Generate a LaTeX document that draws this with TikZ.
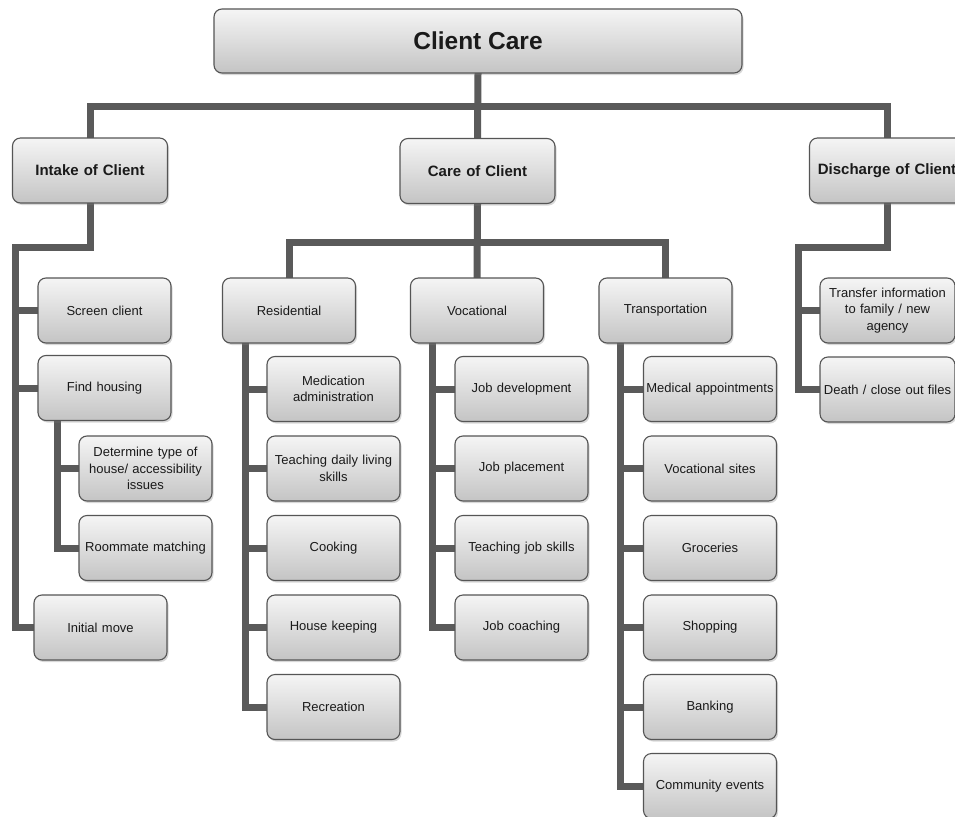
\documentclass[tikz,border=0pt]{standalone}
\usepackage{fontspec}
\setmainfont{Liberation Sans}
\usetikzlibrary{shadows,backgrounds}
\pgfdeclarelayer{bottom}
\pgfsetlayers{bottom,background,main}
\definecolor{boxtop}{HTML}{F5F5F5}
\definecolor{boxbot}{HTML}{C4C4C4}
\definecolor{boxborder}{HTML}{555555}
\definecolor{linec}{HTML}{5A5A5A}
\definecolor{txt}{HTML}{1A1A1A}
\tikzset{
  box/.style={draw=boxborder, line width=1.1pt, rounded corners=8pt,
    top color=boxtop, bottom color=boxbot,
    drop shadow={shadow xshift=1.5pt, shadow yshift=-2pt, opacity=0.3, fill=gray},
    align=center, inner sep=1.5pt, text=txt},
  titlebox/.style={box, minimum width=528pt, minimum height=64pt,
    font=\fontsize{24.5}{28}\selectfont\bfseries},
  lvlone/.style={box, minimum width=155pt, minimum height=65pt, text width=152pt,
    font=\fontsize{15}{18}\selectfont\bfseries},
  subbox/.style={box, minimum width=133pt, minimum height=65pt, text width=130pt,
    font=\fontsize{13}{16.5}\selectfont},
  conn/.style={draw=linec, line width=7pt, line join=miter, line cap=rect}
}
\begin{document}
\begin{tikzpicture}[x=1pt,y=-1pt]
\useasboundingbox (0,0) rectangle (955,816);
\begin{pgfonlayer}{bottom}
\fill[white] (0,0) rectangle (955,816);
\end{pgfonlayer}
\clip (0,0) rectangle (955,816);
% top
\node[titlebox] (title) at (478,41) {Client Care};
\node[lvlone] (intake) at (90,170.5) {Intake of Client};
\node[lvlone] (care) at (477.5,171) {Care of Client};
\node[lvlone] (discharge) at (887,170.5) {Discharge of Client};
% intake
\node[subbox] (screen) at (104.5,310.5) {Screen client};
\node[subbox] (findh) at (104.5,388) {Find housing};
\node[subbox] (determine) at (145.5,468.5) {Determine type of\\house/ accessibility\\issues};
\node[subbox] (roommate) at (145.5,548) {Roommate matching};
\node[subbox] (initial) at (100.5,627.5) {Initial move};
% care
\node[subbox] (residential) at (289,310.5) {Residential};
\node[subbox] (vocational) at (477,310.5) {Vocational};
\node[subbox] (transport) at (665.5,310.5) {Transportation};
\node[subbox] (medadmin) at (333.5,389) {Medication\\administration};
\node[subbox] (teachdaily) at (333.5,468.5) {Teaching daily living\\skills};
\node[subbox] (cooking) at (333.5,548) {Cooking};
\node[subbox] (housekeep) at (333.5,627.5) {House keeping};
\node[subbox] (recreation) at (333.5,707) {Recreation};
\node[subbox] (jobdev) at (521.5,389) {Job development};
\node[subbox] (jobplace) at (521.5,468.5) {Job placement};
\node[subbox] (teachjob) at (521.5,548) {Teaching job skills};
\node[subbox] (jobcoach) at (521.5,627.5) {Job coaching};
\node[subbox] (medapp) at (710,389) {Medical appointments};
\node[subbox] (vocsites) at (710,468.5) {Vocational sites};
\node[subbox] (groceries) at (710,548) {Groceries};
\node[subbox] (shopping) at (710,627.5) {Shopping};
\node[subbox] (banking) at (710,707) {Banking};
\node[subbox] (community) at (710,786) {Community events};
% discharge
\node[subbox, minimum width=135pt, text width=132pt] (transfer) at (887.5,310.5) {Transfer information\\to family / new\\agency};
\node[subbox, minimum width=135pt, text width=132pt] (death) at (887.5,389.5) {Death / close out files};
% connectors
\coordinate (bus) at (478,106);
\coordinate (ilane) at (15,247);
\coordinate (fh) at (57,420);
\coordinate (cbus) at (477.5,242);
\coordinate (rl) at (245,343);
\coordinate (vl) at (432,343);
\coordinate (tl) at (620,343);
\coordinate (dlane) at (798,247);
\begin{pgfonlayer}{background}
\draw[conn] (title.south) -- (care.north);
\draw[conn] (intake.north) |- (bus) -| (discharge.north);
% intake
\draw[conn] (intake.south) |- (ilane) |- (initial.west);
\draw[conn] (ilane |- screen.west) -- (screen.west);
\draw[conn] (ilane |- findh.west) -- (findh.west);
\draw[conn] (fh) |- (roommate.west);
\draw[conn] (fh |- determine.west) -- (determine.west);
% care
\draw[conn] (care.south) -- (vocational.north);
\draw[conn] (residential.north) |- (cbus) -| (transport.north);
\draw[conn] (rl) |- (recreation.west);
\draw[conn] (rl |- medadmin.west) -- (medadmin.west);
\draw[conn] (rl |- teachdaily.west) -- (teachdaily.west);
\draw[conn] (rl |- cooking.west) -- (cooking.west);
\draw[conn] (rl |- housekeep.west) -- (housekeep.west);
\draw[conn] (vl) |- (jobcoach.west);
\draw[conn] (vl |- jobdev.west) -- (jobdev.west);
\draw[conn] (vl |- jobplace.west) -- (jobplace.west);
\draw[conn] (vl |- teachjob.west) -- (teachjob.west);
\draw[conn] (tl) |- (community.west);
\draw[conn] (tl |- medapp.west) -- (medapp.west);
\draw[conn] (tl |- vocsites.west) -- (vocsites.west);
\draw[conn] (tl |- groceries.west) -- (groceries.west);
\draw[conn] (tl |- shopping.west) -- (shopping.west);
\draw[conn] (tl |- banking.west) -- (banking.west);
% discharge
\draw[conn] (discharge.south) |- (dlane) |- (death.west);
\draw[conn] (dlane |- transfer.west) -- (transfer.west);
\end{pgfonlayer}
\end{tikzpicture}
\end{document}
